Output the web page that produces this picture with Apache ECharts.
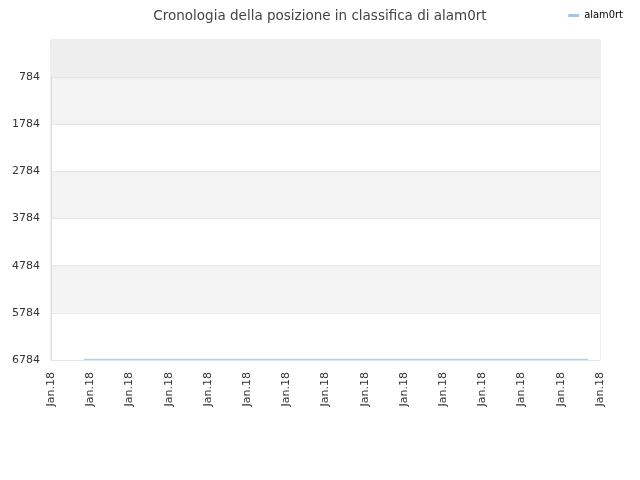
<!DOCTYPE html>
<html><head><meta charset="utf-8">
<script src="https://cdn.jsdelivr.net/npm/echarts@6/dist/echarts.min.js"></script>
<style>html,body{margin:0;padding:0;background:#fff}#c{width:640px;height:480px}</style>
</head><body><div id="c"></div>
<script>
var titleText = 'Cronologia della posizione in classifica di alam0rt';
var seriesName = 'alam0rt';
var xTickLabels = ['Jan.18','Jan.18','Jan.18','Jan.18','Jan.18','Jan.18','Jan.18','Jan.18','Jan.18','Jan.18','Jan.18','Jan.18','Jan.18','Jan.18','Jan.18'];
var yTicks = [784, 1784, 2784, 3784, 4784, 5784, 6784];
var xDays = [0.84, 13.69];
var ranks = [6770, 6770];

var chart = echarts.init(document.getElementById('c'));
chart.setOption({
  animation: false,
  backgroundColor: '#fff',
  title: {
    text: titleText, left: 'center', top: 4,
    textStyle: {fontFamily: 'DejaVu Sans', fontSize: 13.5, fontWeight: 'normal', color: '#444'}
  },
  legend: {
    right: 12, top: 5, itemWidth: 11, itemHeight: 3, itemGap: 6,
    icon: 'rect',
    textStyle: {fontFamily: 'DejaVu Sans Condensed', fontSize: 11, color: '#000'},
    data: [seriesName]
  },
  grid: {left: 51, right: 40, top: 40, bottom: 120, show: true, borderColor: '#ddd', borderWidth: 1, backgroundColor: 'transparent'},
  xAxis: {
    type: 'value', min: 0, max: xTickLabels.length - 1, interval: 1,
    axisLine: {show: true, lineStyle: {color: '#ccc'}},
    axisTick: {show: false},
    splitLine: {show: false},
    axisLabel: {
      rotate: 90, margin: 12, fontFamily: 'DejaVu Sans', fontSize: 11, color: '#333',
      showMinLabel: true, showMaxLabel: true,
      formatter: function (v) { return xTickLabels[Math.round(v)]; }
    }
  },
  yAxis: {
    type: 'value', inverse: true, min: 0, max: yTicks[yTicks.length - 1],
    axisLine: {show: true, lineStyle: {color: '#ddd'}},
    axisTick: {show: false, customValues: yTicks},
    axisLabel: {customValues: yTicks, margin: 11, fontFamily: 'DejaVu Sans', fontSize: 11, color: '#333',
      formatter: function (v) { return String(v); }},
    splitLine: {show: true, lineStyle: {color: '#e6e6e6'}},
    splitArea: {show: true, areaStyle: {color: ['#f3f3f3', '#ffffff']}}
  },
  series: [{
    name: seriesName, type: 'line', symbol: 'none',
    lineStyle: {color: '#9ec7ef', width: 1}, itemStyle: {color: '#9ec7ef'},
    data: xDays.map(function (d, i) { return [d, ranks[i]]; }),
    markArea: {
      silent: true, itemStyle: {color: '#eeeeee'},
      data: [[{yAxis: 0}, {yAxis: yTicks[0]}]]
    }
  }]
});
</script></body></html>
